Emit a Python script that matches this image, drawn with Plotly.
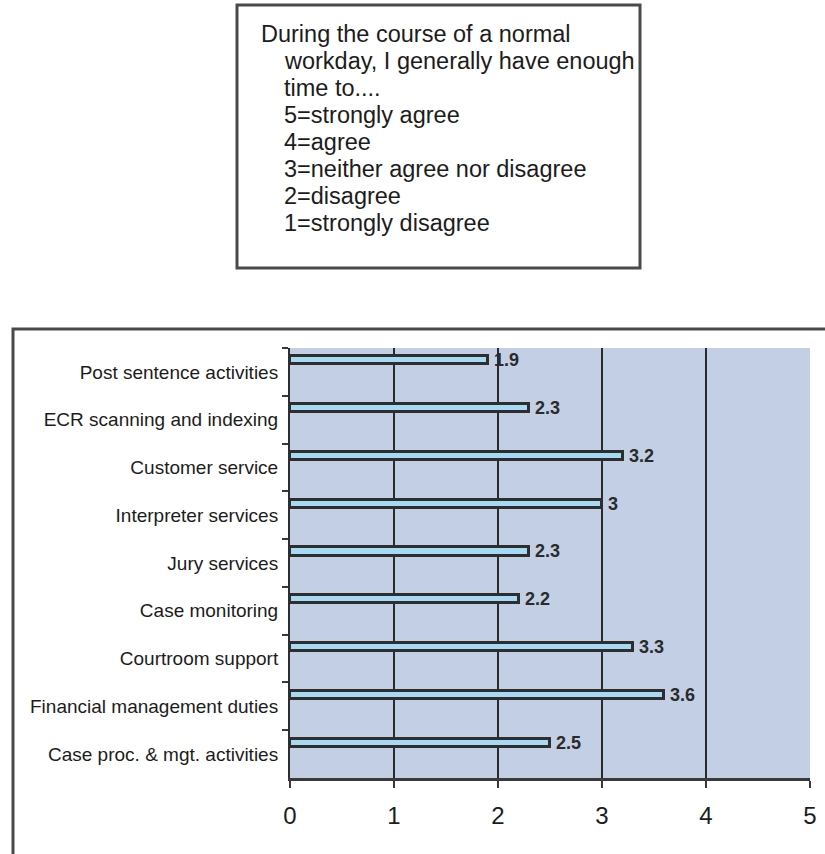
import plotly.graph_objects as go

# Survey activity categories, listed top to bottom
categories = [
    "Post sentence activities",
    "ECR scanning and indexing",
    "Customer service",
    "Interpreter services",
    "Jury services",
    "Case monitoring",
    "Courtroom support",
    "Financial management duties",
    "Case proc. & mgt. activities",
]
# Mean agreement score per activity (1-5 scale)
scores = [1.9, 2.3, 3.2, 3, 2.3, 2.2, 3.3, 3.6, 2.5]
x_ticks = [0, 1, 2, 3, 4, 5]

title_lines = [
    "During the course of a normal",
    "workday, I generally have enough",
    "time to....",
    "5=strongly agree",
    "4=agree",
    "3=neither agree nor disagree",
    "2=disagree",
    "1=strongly disagree",
]

FONT = "Liberation Sans, Arial, sans-serif"
INK = "#1c1c1c"
BORDER = "#4a4a4a"

bar_w = 0.17
fig = go.Figure(
    go.Bar(
        x=scores,
        y=categories,
        orientation="h",
        width=bar_w,
        offset=-0.24 - bar_w / 2,
        marker=dict(color="#a6daf4", line=dict(color="#2e2e2e", width=3)),
        text=[f"\u2009{v:g}" for v in scores],
        textposition="outside",
        constraintext="none",
        textfont=dict(family=FONT, size=18, color="#2a2a2a", weight="bold"),
        cliponaxis=False,
        hoverinfo="skip",
    )
)

fig.update_layout(
    width=825,
    height=854,
    margin=dict(l=290, r=8, t=348, b=76),
    paper_bgcolor="white",
    plot_bgcolor="#c3cfe4",
    showlegend=False,
    bargap=0,
    font=dict(family=FONT, color=INK),
)

fig.update_xaxes(
    range=[0, 5],
    tickvals=x_ticks,
    ticktext=[str(t) for t in x_ticks],
    showgrid=True,
    gridcolor="#2a2a2a",
    gridwidth=1.5,
    zeroline=False,
    showline=True,
    linecolor="#3a3a3a",
    linewidth=2.5,
    ticks="outside",
    ticklen=7,
    tickwidth=2,
    tickcolor="#3a3a3a",
    tickfont=dict(family=FONT, size=24, color=INK),
    ticklabelstandoff=7,
)

fig.update_yaxes(
    type="category",
    categoryorder="array",
    categoryarray=categories,
    range=[len(categories) - 0.5, -0.5],
    tickson="boundaries",
    ticks="outside",
    ticklen=6,
    tickwidth=1.5,
    tickcolor="#3a3a3a",
    showgrid=False,
    showline=True,
    linecolor="#2e2e2e",
    linewidth=2,
    tickfont=dict(family=FONT, size=19, color=INK),
    ticklabelstandoff=6,
)

# Outer frame around the chart, positioned in pixels from the plot origin
fig.add_shape(
    type="rect",
    xref="paper", yref="paper",
    xsizemode="pixel", ysizemode="pixel",
    xanchor=0, yanchor=0,
    x0=-277, x1=545, y0=-90, y1=449,
    line=dict(color=BORDER, width=3),
    fillcolor="rgba(0,0,0,0)",
    layer="below",
)

# Framed question/legend box above the chart
fig.add_shape(
    type="rect",
    xref="paper", yref="paper",
    xsizemode="pixel", ysizemode="pixel",
    xanchor=0, yanchor=0,
    x0=-53, x1=350, y0=510, y1=773,
    line=dict(color=BORDER, width=3),
    fillcolor="white",
)

H_PLOT = 854 - 348 - 76
line_y = [34, 61, 88, 115, 142, 169, 196, 223]
for i, (txt, yy) in enumerate(zip(title_lines, line_y)):
    x_px = 259 if i == 0 else 282
    fig.add_annotation(
        text=txt,
        xref="paper", yref="paper",
        x=(x_px - 290) / 527, y=(778 - yy) / H_PLOT,
        xanchor="left", yanchor="middle",
        showarrow=False,
        font=dict(family=FONT, size=23.5, color=INK),
    )

fig.write_html("out.html")
